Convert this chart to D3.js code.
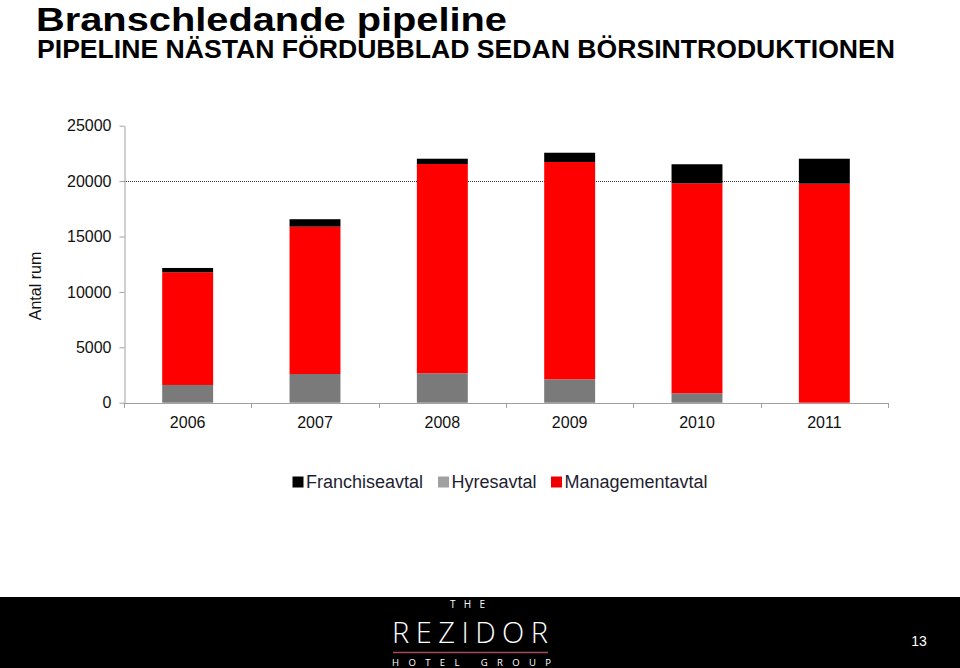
<!DOCTYPE html>
<html>
<head>
<meta charset="utf-8">
<script src="https://cdn.jsdelivr.net/npm/d3@7"></script>
<style>
  html, body { margin: 0; padding: 0; background: #fff; }
  svg { display: block; font-family: "Liberation Sans", Arial, sans-serif; }
</style>
</head>
<body>
<svg id="chart" width="960" height="668"></svg>
<script>
const years = ["2006", "2007", "2008", "2009", "2010", "2011"];
const hyresavtal = [1600, 2590, 2650, 2110, 850, 0];
const managementavtal = [10170, 13300, 18890, 19610, 18950, 19770];
const franchiseavtal = [390, 670, 480, 840, 1720, 2250];
const yTicks = [0, 5000, 10000, 15000, 20000, 25000];
const seriesNames = ["Hyresavtal", "Managementavtal", "Franchiseavtal"];
const seriesColors = { Hyresavtal: "#7a7a7a", Managementavtal: "#ff0000", Franchiseavtal: "#000000" };
const legendOrder = ["Franchiseavtal", "Hyresavtal", "Managementavtal"];
const legendColors = { Franchiseavtal: "#000000", Hyresavtal: "#a0a0a0", Managementavtal: "#ee0000" };
const referenceValue = 20000;

const svg = d3.select("#chart");

// Titles
svg.append("text").attr("x", 36).attr("y", 30.5)
  .attr("font-size", 33.5).attr("font-weight", "bold").attr("fill", "#000")
  .attr("textLength", 471).attr("lengthAdjust", "spacingAndGlyphs")
  .text("Branschledande pipeline");
svg.append("text").attr("x", 37).attr("y", 58)
  .attr("font-size", 25).attr("font-weight", "bold").attr("fill", "#000")
  .attr("textLength", 858).attr("lengthAdjust", "spacingAndGlyphs")
  .text("PIPELINE NÄSTAN FÖRDUBBLAD SEDAN BÖRSINTRODUKTIONEN");

// Scales
const x = d3.scaleBand().domain(years).range([124, 888]).paddingInner(0.6).paddingOuter(0.3);
const y = d3.scaleLinear().domain([0, 25000]).range([402.7, 125.7]);

const table = years.map((yr, i) => ({
  year: yr,
  Hyresavtal: hyresavtal[i],
  Managementavtal: managementavtal[i],
  Franchiseavtal: franchiseavtal[i]
}));
const stacked = d3.stack().keys(seriesNames)(table);

// Reference dotted line at 20000 (behind bars)
svg.append("line")
  .attr("x1", 124).attr("x2", x("2011"))
  .attr("y1", Math.round(y(referenceValue)) + 0.5).attr("y2", Math.round(y(referenceValue)) + 0.5)
  .attr("stroke", "#333").attr("stroke-width", 1).attr("stroke-dasharray", "1,1");

// Bars
svg.append("g").selectAll("g").data(stacked).join("g")
  .attr("fill", d => seriesColors[d.key])
  .selectAll("rect").data(d => d).join("rect")
  .attr("x", d => x(d.data.year))
  .attr("width", x.bandwidth())
  .attr("y", d => y(d[1]))
  .attr("height", d => Math.max(0, y(d[0]) - y(d[1])));

// Y axis
const yAxis = svg.append("g").attr("transform", "translate(124.5,0)")
  .call(d3.axisLeft(y).tickValues(yTicks).tickSize(5).tickSizeOuter(0).tickPadding(8).tickFormat(d3.format("d")));
yAxis.select(".domain").attr("stroke", "#a0a0a0");
yAxis.selectAll(".tick line").attr("stroke", "#a0a0a0");
yAxis.selectAll(".tick text").attr("font-size", 16).attr("fill", "#111")
  .attr("font-family", "'Liberation Sans', Arial, sans-serif");

// X axis
const xAxis = svg.append("g").attr("transform", "translate(0," + (y(0) + 0.3) + ")")
  .call(d3.axisBottom(x).tickSize(0).tickPadding(14));
xAxis.select(".domain").attr("stroke", "#a0a0a0");
xAxis.selectAll(".tick text").attr("font-size", 16).attr("fill", "#111")
  .attr("font-family", "'Liberation Sans', Arial, sans-serif");
// band boundary ticks
const boundaries = years.map(yr => x(yr) - x.step() * x.paddingOuter()).concat([x.range()[1]]);
xAxis.selectAll("line.bound").data(boundaries).join("line").attr("class", "bound")
  .attr("x1", d => Math.round(d) + 0.5).attr("x2", d => Math.round(d) + 0.5)
  .attr("y1", 0).attr("y2", 5).attr("stroke", "#a0a0a0");

// Y axis title
svg.append("text")
  .attr("transform", "translate(40.5,286) rotate(-90)")
  .attr("text-anchor", "middle").attr("font-size", 16).attr("fill", "#111")
  .text("Antal rum");

// Legend
const legendX = [292.5, 438, 551];
const lg = svg.append("g").selectAll("g").data(legendOrder).join("g")
  .attr("transform", (d, i) => "translate(" + legendX[i] + ",0)");
lg.append("rect").attr("x", 0).attr("y", 476.5).attr("width", 11).attr("height", 11)
  .attr("fill", d => legendColors[d]);
lg.append("text").attr("x", 13.5).attr("y", 487.5).attr("font-size", 18).attr("fill", "#1e1e30")
  .text(d => d);

// Footer
svg.append("rect").attr("x", 0).attr("y", 597).attr("width", 960).attr("height", 71).attr("fill", "#000");
svg.append("text").attr("x", 450).attr("y", 607.5).attr("font-size", 10)
  .attr("font-family", "'Open Sans', sans-serif").attr("fill", "#fff")
  .attr("textLength", 35).attr("lengthAdjust", "spacing").text("THE");
svg.append("text").attr("x", 392).attr("y", 642.5).attr("font-size", 29).attr("font-weight", 300)
  .attr("font-family", "'Open Sans', sans-serif").attr("fill", "#fff")
  .attr("textLength", 156).attr("lengthAdjust", "spacing").text("REZIDOR");
svg.append("line").attr("x1", 393).attr("x2", 548).attr("y1", 652.5).attr("y2", 652.5)
  .attr("stroke", "#a84a58").attr("stroke-width", 1.5);
svg.append("text").attr("x", 392).attr("y", 666).attr("font-size", 9.5)
  .attr("font-family", "'Open Sans', sans-serif").attr("fill", "#fff")
  .attr("textLength", 159).attr("lengthAdjust", "spacing").text("HOTEL GROUP");
svg.append("text").attr("x", 919).attr("y", 646).attr("text-anchor", "middle").attr("font-size", 14)
  .attr("fill", "#fff").text("13");
</script>
</body>
</html>
